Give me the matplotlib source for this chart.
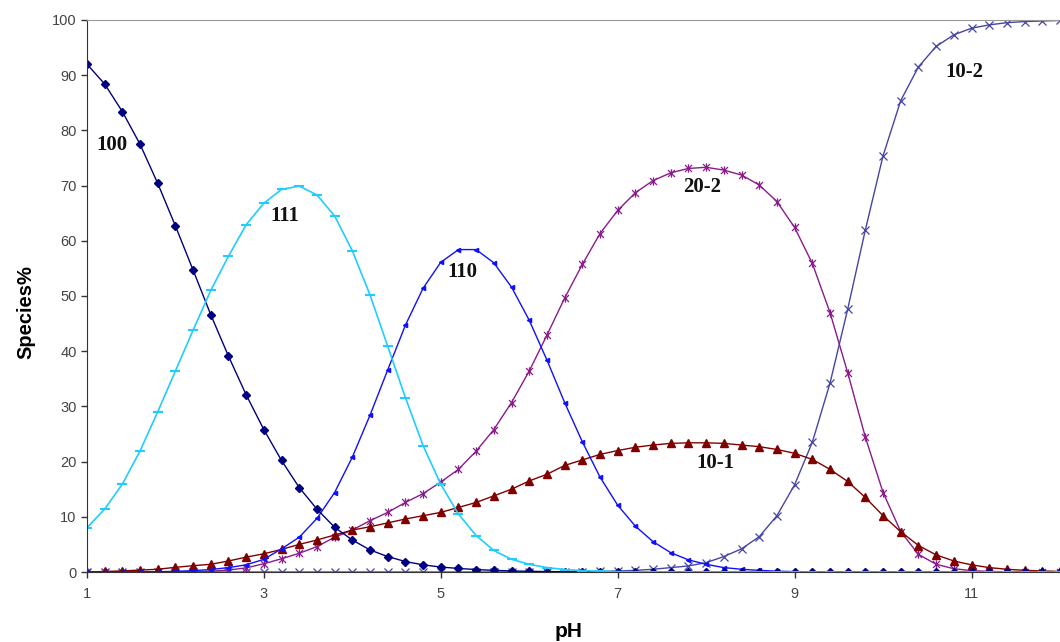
import numpy as np
import matplotlib
matplotlib.use("Agg")
import matplotlib.pyplot as plt
from matplotlib.path import Path

# pH grid, one point every 0.2 units
PH = np.round(np.arange(1.0, 12.01, 0.2), 1)

S100 = [92.0, 88.4, 83.4, 77.5, 70.4, 62.7, 54.7, 46.6, 39.1, 32.1,
        25.8, 20.2, 15.3, 11.4, 8.1, 5.8, 4.0, 2.8, 1.9, 1.3,
        0.9, 0.65, 0.45, 0.3, 0.2, 0.13, 0.08, 0.05, 0.03, 0.02] + [0.0] * 26
S111 = [8.0, 11.4, 15.9, 21.9, 29.0, 36.4, 43.8, 51.0, 57.2, 62.9,
        66.8, 69.3, 69.9, 68.3, 64.5, 58.2, 50.2, 40.9, 31.6, 22.9,
        15.9, 10.5, 6.6, 3.9, 2.3, 1.4, 0.8, 0.45, 0.25, 0.13,
        0.07, 0.04, 0.02, 0.01] + [0.0] * 22
S110 = [0.0, 0.01, 0.02, 0.03, 0.05, 0.12, 0.25, 0.45, 0.8, 1.3,
        2.3, 4.2, 6.3, 9.7, 14.4, 20.8, 28.4, 36.6, 44.7, 51.4,
        56.1, 58.4, 58.4, 56.0, 51.6, 45.6, 38.4, 30.7, 23.6, 17.2,
        12.1, 8.3, 5.5, 3.5, 2.2, 1.4, 0.8, 0.5, 0.3, 0.15,
        0.08, 0.04, 0.02, 0.01] + [0.0] * 12
S202 = [0.0, 0.0, 0.0, 0.0, 0.01, 0.02, 0.05, 0.15, 0.35, 0.75,
        1.5, 2.4, 3.4, 4.6, 6.3, 7.6, 9.3, 10.8, 12.6, 14.2,
        16.3, 18.6, 21.9, 25.8, 30.7, 36.4, 42.9, 49.6, 55.7, 61.3,
        65.5, 68.7, 70.9, 72.3, 73.1, 73.3, 72.8, 71.9, 70.1, 67.1,
        62.4, 55.9, 47.0, 36.1, 24.4, 14.4, 7.3, 3.2, 1.4, 0.6,
        0.25, 0.1, 0.05, 0.02, 0.01, 0.0]
S101 = [0.0, 0.1, 0.2, 0.35, 0.5, 0.85, 1.15, 1.4, 2.0, 2.7,
        3.3, 4.1, 5.0, 5.8, 6.7, 7.6, 8.2, 8.9, 9.6, 10.2,
        10.8, 11.7, 12.6, 13.8, 15.0, 16.5, 17.7, 19.3, 20.3, 21.3,
        22.0, 22.6, 23.0, 23.3, 23.4, 23.4, 23.3, 23.0, 22.7, 22.2,
        21.5, 20.4, 18.6, 16.4, 13.5, 10.2, 7.3, 4.8, 3.1, 2.0,
        1.3, 0.8, 0.5, 0.3, 0.2, 0.1]
S102 = [0.0] * 28 + [0.05, 0.1,
        0.2, 0.3, 0.5, 0.8, 1.1, 1.7, 2.8, 4.2, 6.4, 10.2,
        15.8, 23.5, 34.2, 47.6, 62.0, 75.4, 85.4, 91.5, 95.2, 97.3,
        98.5, 99.1, 99.5, 99.7, 99.8, 99.9]

LABELS = ["100", "111", "110", "20-2", "10-1", "10-2"]
LABEL_POS = [(1.28, 77.4), (3.24, 64.5), (5.24, 54.3), (7.96, 69.7), (8.10, 19.7), (10.92, 90.6)]

# Excel-style asterisk: an x with a vertical bar
star = Path([(-1, -1), (1, 1), (-1, 1), (1, -1), (0, -1.2), (0, 1.2)],
            [Path.MOVETO, Path.LINETO, Path.MOVETO, Path.LINETO, Path.MOVETO, Path.LINETO])

fig = plt.figure(figsize=(10.6, 6.42), dpi=100)
ax = fig.add_axes([0.082, 0.109, 0.918, 0.860])

ax.plot(PH, S102, color="#4545A5", lw=1.0, marker="x", ms=6, mew=0.9)
ax.plot(PH, S202, color="#8B1A8B", lw=1.0, marker=star, ms=6, mew=0.9, mfc="none")
ax.plot(PH, S101, color="#800000", lw=1.0, marker="^", ms=6)
ax.plot(PH, S110, color="#1010FF", lw=1.0, marker="<", ms=3)
ax.plot(PH, S100, color="#000080", lw=1.0, marker="D", ms=4.5)
ax.plot(PH, S111, color="#22CCFF", lw=1.2, marker="_", ms=7, mew=1.5)

for txt, (x, y) in zip(LABELS, LABEL_POS):
    ax.text(x, y, txt, family="Liberation Serif", fontweight="bold", fontsize=15,
            ha="center", va="center", color="#111111")

ax.set_xlim(1, 12)
ax.set_ylim(0, 100)
ax.set_xticks([1, 3, 5, 7, 9, 11])
ax.set_yticks(range(0, 101, 10))
ax.tick_params(axis="both", direction="out", length=4, width=1, colors="#333333",
               labelsize=10.5, labelcolor="#444444")
ax.tick_params(axis="x", pad=7)
for lab in ax.get_xticklabels() + ax.get_yticklabels():
    lab.set_family("Liberation Sans")

ax.spines["right"].set_visible(False)
ax.spines["top"].set_color("#999999")
ax.spines["left"].set_color("#333333")
ax.spines["bottom"].set_color("#333333")

ax.set_xlabel("pH", family="Liberation Sans", fontweight="bold", fontsize=15)
ax.xaxis.set_label_coords(0.495, -0.09)
ax.set_ylabel("Species%", family="Liberation Sans", fontweight="bold", fontsize=14.5)
ax.yaxis.set_label_coords(-0.053, 0.47)

fig.savefig("out.png", dpi=100)
